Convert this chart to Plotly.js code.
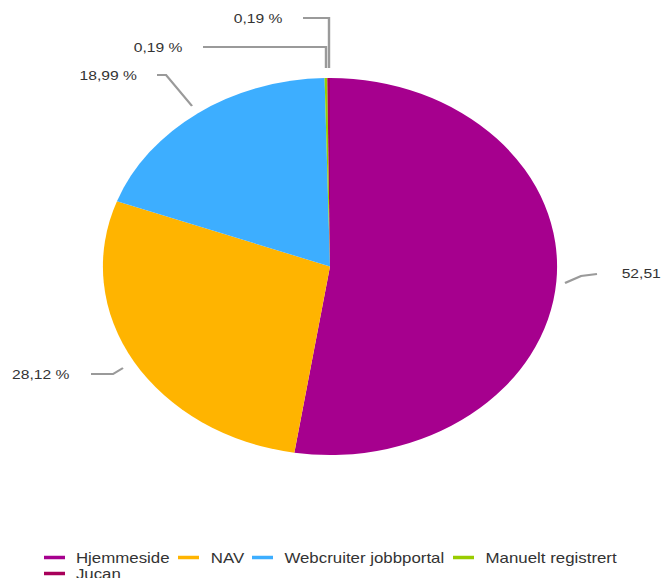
<!DOCTYPE html>
<html>
<head>
<meta charset="utf-8">
<script src="https://cdn.plot.ly/plotly-3.0.1.min.js"></script>
<style>
html,body{margin:0;padding:0;background:#fff;overflow:hidden;}
#wrap{width:665px;height:578px;overflow:hidden;}
#chart{width:552px;height:578px;transform-origin:0 0;}
</style>
</head>
<body>
<div id="wrap"><div id="chart"></div></div>
<script>
// ---- data ----
const categories = ["Hjemmeside", "NAV", "Webcruiter jobbportal", "Manuelt registrert", "Jucan"];
const shares = [52.51, 28.12, 18.99, 0.19, 0.19];
const shareLabels = ["52,51 %", "28,12 %", "18,99 %", "0,19 %", "0,19 %"];
const colors = ["#A6008E", "#FFB400", "#3DAEFF", "#99CC00", "#A8005A"];

// ---- geometry: the reference is a 552px-wide chart stretched to 665px ----
const W = 665, H = 578, W0 = 552, S = W / W0;
document.getElementById("chart").style.transform = `scaleX(${S})`;
const CX = 330, CY = 266.5, RY = 188.5, RX = RY * S;
const px = x => x / W, py = y => 1 - y / H;   // reference pixels -> paper
const FONT = "Liberation Sans, Arial, sans-serif";

// slice label placements with leader lines
const labelPlacement = [
  {x: 619, y: 274, pts: [[597,274],[581,276],[565,283]]},
  {x: 10,  y: 374, pts: [[91,374],[113,374],[123,368]]},
  {x: 77,  y: 75,  pts: [[157,75],[166,75],[192,106]]},
  {x: 231, y: 18,  pts: [[303,18],[329,18],[329,68]]},
  {x: 131, y: 47,  pts: [[203,47],[326,47],[326,68]]}
];
// legend entry placements: symbol start x, row y
const legendPlacement = [
  {x: 44, y: 557.5}, {x: 178, y: 557.5}, {x: 252, y: 557.5}, {x: 453, y: 557.5}, {x: 44, y: 573.5}
];
const legendSymbolW = 21, legendTextGap = 9;

const annotations = shareLabels.map((t, i) => ({
  text: t, xref: "paper", yref: "paper",
  x: px(labelPlacement[i].x), y: py(labelPlacement[i].y),
  xanchor: "left", yanchor: "middle", showarrow: false,
  font: {family: FONT, size: 13, color: "#333333"}
})).concat(categories.map((c, i) => ({
  text: c, xref: "paper", yref: "paper",
  x: px(legendPlacement[i].x + legendSymbolW + legendTextGap), y: py(legendPlacement[i].y),
  xanchor: "left", yanchor: "middle", showarrow: false,
  font: {family: FONT, size: 14, color: "#333333"}
})));

const shapes = labelPlacement.map(p => ({
  type: "path", xref: "paper", yref: "paper",
  path: p.pts.map((q, k) => (k ? "L" : "M") + px(q[0]) + "," + py(q[1])).join(" "),
  line: {color: "#9a9a9a", width: 2}
})).concat(categories.map((c, i) => ({
  type: "line", xref: "paper", yref: "paper",
  x0: px(legendPlacement[i].x), x1: px(legendPlacement[i].x + legendSymbolW),
  y0: py(legendPlacement[i].y), y1: py(legendPlacement[i].y),
  line: {color: colors[i], width: 3.5}
})));

const trace = {
  type: "pie",
  labels: categories,
  values: shares,
  sort: false,
  direction: "clockwise",
  rotation: 0,
  textinfo: "none",
  hoverinfo: "label+percent",
  marker: {colors: colors, line: {width: 0}},
  domain: {x: [px(CX - RX), px(CX + RX)], y: [py(CY + RY), py(CY - RY)]}
};

const layout = {
  width: W0, height: H,
  margin: {l: 0, r: 0, t: 0, b: 0, autoexpand: false},
  paper_bgcolor: "#ffffff",
  showlegend: false,
  annotations: annotations,
  shapes: shapes
};

Plotly.newPlot("chart", [trace], layout, {displayModeBar: false, staticPlot: true});
</script>
</body>
</html>
